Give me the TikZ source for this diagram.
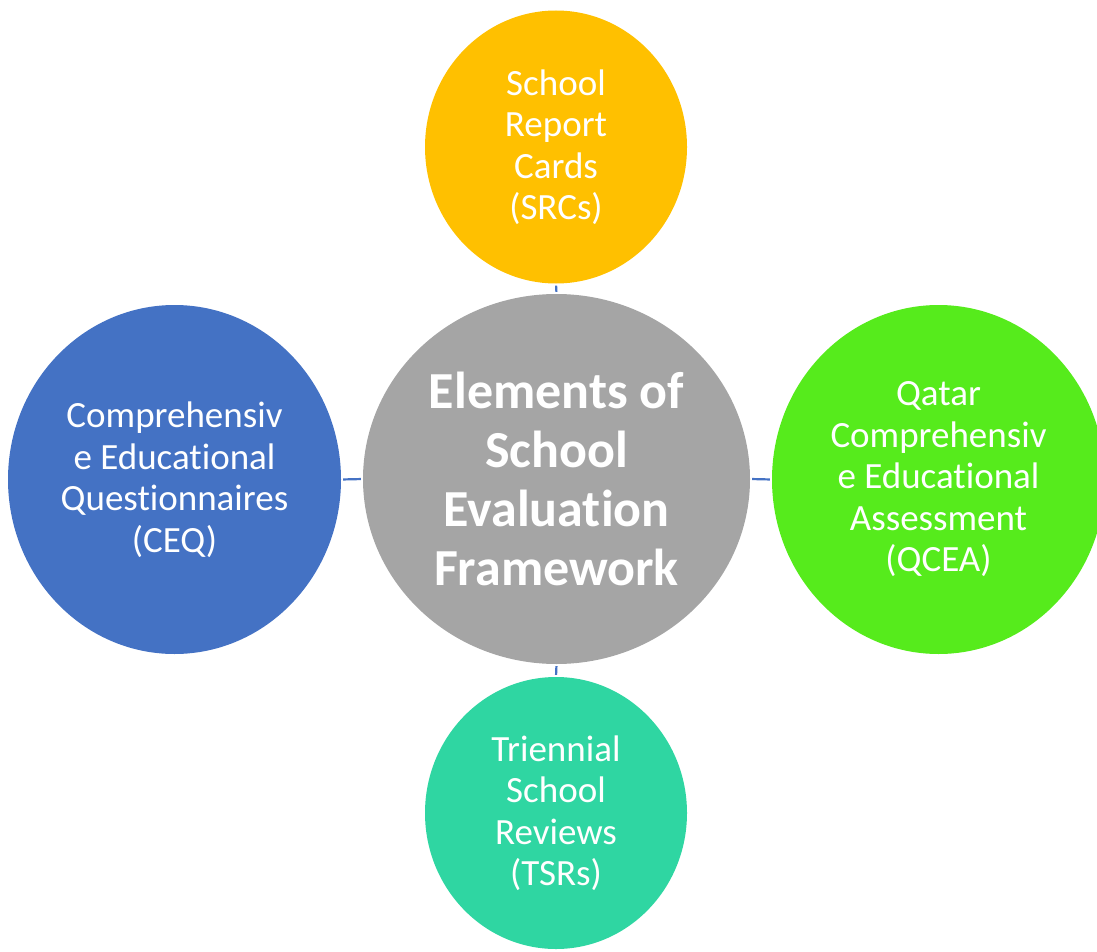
\documentclass[tikz,border=0pt]{standalone}
\usepackage{fontspec}
\setmainfont{Carlito}[Ligatures=NoCommon]
\usetikzlibrary{shapes.geometric}
\definecolor{cyel}{HTML}{FFC000}
\definecolor{cblue}{HTML}{4472C4}
\definecolor{cgray}{HTML}{A5A5A5}
\definecolor{cgreen}{HTML}{56EB1C}
\definecolor{cteal}{HTML}{2FD6A2}
\begin{document}
\begin{tikzpicture}[x=1pt,y=-1pt,
  bubble/.style={ellipse, inner sep=0pt, text=white, align=center,
    font=\fontsize{37}{41.5}\selectfont},
  hub/.style={bubble, font=\fontsize{52}{59}\selectfont\bfseries},
  conn/.style={draw=cblue, line width=2.2pt, shorten <=2pt, shorten >=2pt}]
\useasboundingbox (0,0) rectangle (1097,952);
\clip (0,0) rectangle (1097,952);
\node[hub, fill=cgray, minimum width=387pt, minimum height=370pt] (c) at (556.5,479)
  {Elements of\\School\\Evaluation\\Framework};
\node[bubble, fill=cyel, minimum width=262pt, minimum height=273pt] (t) at (556,147)
  {School\\Report\\Cards\\(SRCs)};
\node[bubble, fill=cblue, minimum width=333pt, minimum height=349pt] (l) at (174.5,479.5)
  {Comprehensiv\\e Educational\\Questionnaires\\(CEQ)};
\node[bubble, fill=cgreen, minimum width=333pt, minimum height=349pt] (r) at (938.5,479.5)
  {Qatar\\Comprehensiv\\e Educational\\Assessment\\(QCEA)};
\node[bubble, fill=cteal, minimum width=262pt, minimum height=272pt] (b) at (556,813)
  {Triennial\\School\\Reviews\\(TSRs)};
\draw[conn] (c.north) -- (t.south);
\draw[conn] (c.west) -- (l.east);
\draw[conn] (c.east) -- (r.west);
\draw[conn] (c.south) -- (b.north);
\end{tikzpicture}
\end{document}
